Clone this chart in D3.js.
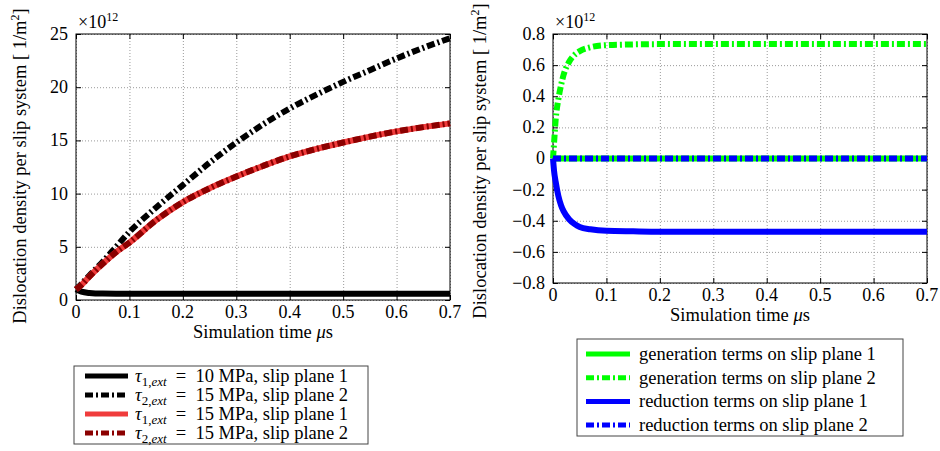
<!DOCTYPE html>
<html>
<head>
<meta charset="utf-8">
<script src="https://cdn.jsdelivr.net/npm/d3@7"></script>
<style>
  body { margin: 0; background: #fff; }
  svg text { font-family: "Liberation Serif", "Times New Roman", serif; fill: #000; }
</style>
</head>
<body>
<div id="chart"></div>
<script>
// data (values in units of 1e12 1/m^2, time in microseconds)
var tLeft = [0, 0.01, 0.025, 0.05, 0.075, 0.1, 0.15, 0.2, 0.25, 0.3, 0.35, 0.4, 0.45, 0.5, 0.55, 0.6, 0.65, 0.7];
var black10Plane1 = [1.0, 0.78, 0.66, 0.6, 0.59, 0.59, 0.59, 0.59, 0.59, 0.59, 0.59, 0.59, 0.59, 0.59, 0.59, 0.59, 0.59, 0.59];
var black15Plane2 = [1.0, 1.5, 2.3, 3.6, 5.0, 6.4, 8.7, 10.8, 12.9, 14.8, 16.5, 18.0, 19.3, 20.5, 21.6, 22.7, 23.7, 24.6];
var red15Plane1 = [1.0, 1.4, 2.2, 3.4, 4.5, 5.4, 7.5, 9.2, 10.5, 11.6, 12.6, 13.5, 14.2, 14.8, 15.35, 15.85, 16.25, 16.6];
var darkred15Plane2 = [1.0, 1.4, 2.2, 3.4, 4.5, 5.4, 7.5, 9.2, 10.5, 11.6, 12.6, 13.5, 14.2, 14.8, 15.35, 15.85, 16.25, 16.6];

var tRight = [0, 0.002, 0.005, 0.01, 0.015, 0.02, 0.03, 0.04, 0.05, 0.07, 0.1, 0.15, 0.2, 0.3, 0.4, 0.5, 0.6, 0.7];
var genPlane1 = [0, 0, 0, 0, 0, 0, 0, 0, 0, 0, 0, 0, 0, 0, 0, 0, 0, 0];
var genPlane2 = [0, 0.1, 0.25, 0.38, 0.47, 0.54, 0.62, 0.665, 0.69, 0.715, 0.728, 0.733, 0.735, 0.735, 0.735, 0.735, 0.735, 0.735];
var redPlane1 = [0, -0.08, -0.15, -0.24, -0.30, -0.34, -0.39, -0.42, -0.44, -0.455, -0.465, -0.468, -0.47, -0.47, -0.47, -0.47, -0.47, -0.47];
var redPlane2 = [0, 0, 0, 0, 0, 0, 0, 0, 0, 0, 0, 0, 0, 0, 0, 0, 0, 0];

var xTicks = [0, 0.1, 0.2, 0.3, 0.4, 0.5, 0.6, 0.7];
var yTicksLeft = [0, 5, 10, 15, 20, 25];
var yTicksRight = [-0.8, -0.6, -0.4, -0.2, 0, 0.2, 0.4, 0.6, 0.8];

var leftLabels = ["10 MPa, slip plane 1", "15 MPa, slip plane 2", "15 MPa, slip plane 1", "15 MPa, slip plane 2"];
var leftSubs = ["1", "2", "1", "2"];
var rightLabels = ["generation terms on slip plane 1", "generation terms on slip plane 2",
                   "reduction terms on slip plane 1", "reduction terms on slip plane 2"];

var DASHDOT = "8,3,2,3";
var FONT = "Liberation Serif";

var svg = d3.select("#chart").append("svg")
  .attr("width", 940)
  .attr("height", 451);

// draws one panel: box, grid, ticks, labels, lines
function panel(opt) {
  var x = d3.scaleLinear().domain([0, 0.7]).range([opt.x0, opt.x1]);
  var y = d3.scaleLinear().domain(opt.yDomain).range([opt.y1, opt.y0]);
  var g = svg.append("g");

  // grid
  g.append("g").call(d3.axisBottom(x).tickValues(xTicks).tickSize(-(opt.y1 - opt.y0)).tickFormat(""))
    .attr("transform", "translate(0," + opt.y1 + ")")
    .call(s => s.select(".domain").remove())
    .call(s => s.selectAll("line").attr("stroke", "#9a9a9a").attr("stroke-dasharray", "1,2"));
  g.append("g").call(d3.axisLeft(y).tickValues(opt.yTicks).tickSize(-(opt.x1 - opt.x0)).tickFormat(""))
    .attr("transform", "translate(" + opt.x0 + ",0)")
    .call(s => s.select(".domain").remove())
    .call(s => s.selectAll("line").attr("stroke", "#9a9a9a").attr("stroke-dasharray", "1,2"));

  // tick marks inside on all sides
  var ax = [
    [d3.axisBottom(x).tickValues(xTicks).tickSize(-5), "translate(0," + opt.y1 + ")"],
    [d3.axisTop(x).tickValues(xTicks).tickSize(-5), "translate(0," + opt.y0 + ")"],
    [d3.axisLeft(y).tickValues(opt.yTicks).tickSize(-5), "translate(" + opt.x0 + ",0)"],
    [d3.axisRight(y).tickValues(opt.yTicks).tickSize(-5), "translate(" + opt.x1 + ",0)"]
  ];
  ax.forEach(function(a) {
    g.append("g").attr("transform", a[1]).call(a[0].tickFormat(""))
      .call(s => s.select(".domain").remove())
      .call(s => s.selectAll("line").attr("stroke", "#000"));
  });

  g.append("rect")
    .attr("x", opt.x0).attr("y", opt.y0)
    .attr("width", opt.x1 - opt.x0).attr("height", opt.y1 - opt.y0)
    .attr("fill", "none").attr("stroke", "#000");

  // tick labels
  g.selectAll(".xl").data(xTicks).enter().append("text")
    .attr("x", d => x(d)).attr("y", opt.y1 + 18)
    .attr("text-anchor", "middle").attr("font-family", FONT).attr("font-size", "18px")
    .text(d => d3.format("")(d));
  g.selectAll(".yl").data(opt.yTicks).enter().append("text")
    .attr("x", opt.x0 - 8).attr("y", d => y(d)).attr("dy", "0.33em")
    .attr("text-anchor", "end").attr("font-family", FONT).attr("font-size", "18px")
    .text(d => d < 0 ? "\u2212" + Math.abs(d) : String(d));

  // exponent
  var ex = g.append("text").attr("x", opt.x0 + 2).attr("y", 28)
    .attr("font-family", FONT).attr("font-size", "18px");
  ex.append("tspan").text("\u00d710");
  ex.append("tspan").attr("font-size", "12px").attr("dy", "-7").text("12");

  // axis labels
  var xl = g.append("text")
    .attr("x", (opt.x0 + opt.x1) / 2).attr("y", opt.y1 + 38)
    .attr("text-anchor", "middle").attr("font-family", FONT).attr("font-size", "18.5px");
  xl.append("tspan").text("Simulation time ");
  xl.append("tspan").attr("font-style", "italic").text("\u03bc");
  xl.append("tspan").text("s");

  var yl = g.append("text")
    .attr("transform", "translate(" + opt.yLabelX + "," + opt.yLabelY + ") rotate(-90)")
    .attr("text-anchor", "middle").attr("font-family", FONT).attr("font-size", "18.5px");
  yl.append("tspan").text("Dislocation density per slip system [ 1/m");
  yl.append("tspan").attr("font-size", "12px").attr("dy", "-7").text("2");
  yl.append("tspan").attr("dy", "7").text("]");

  // lines
  opt.series.forEach(function(s) {
    var line = d3.line()
      .x((d, i) => x(opt.t[i]))
      .y(d => y(d))
      .curve(d3.curveMonotoneX);
    g.append("path")
      .datum(s.values)
      .attr("d", line)
      .attr("fill", "none")
      .attr("stroke", s.color)
      .attr("stroke-width", 6)
      .attr("stroke-dasharray", s.dash ? DASHDOT : null);
  });
}

var leftSeries = [
  {values: black10Plane1, color: "#000000", dash: false},
  {values: black15Plane2, color: "#000000", dash: true},
  {values: red15Plane1, color: "#f03c3c", dash: false},
  {values: darkred15Plane2, color: "#8b0000", dash: true}
];
var rightSeries = [
  {values: genPlane1, color: "#00ff00", dash: false},
  {values: genPlane2, color: "#00ff00", dash: true},
  {values: redPlane1, color: "#0000ff", dash: false},
  {values: redPlane2, color: "#0000ff", dash: true}
];

panel({x0: 76, x1: 450, y0: 34, y1: 300, yDomain: [0, 25], yTicks: yTicksLeft,
       t: tLeft, series: leftSeries, yLabelX: 26, yLabelY: 166});
panel({x0: 553, x1: 927, y0: 34, y1: 283, yDomain: [-0.8, 0.8], yTicks: yTicksRight,
       t: tRight, series: rightSeries, yLabelX: 486, yLabelY: 161});

// legends
function legend(box, rows, series, labelFn) {
  var g = svg.append("g");
  g.append("rect")
    .attr("x", box.x).attr("y", box.y).attr("width", box.w).attr("height", box.h)
    .attr("fill", "#fff").attr("stroke", "#444");
  series.forEach(function(s, i) {
    var cy = rows.y + i * rows.step;
    g.append("line")
      .attr("x1", rows.sx0).attr("x2", rows.sx1).attr("y1", cy).attr("y2", cy)
      .attr("stroke", s.color).attr("stroke-width", 5)
      .attr("stroke-dasharray", s.dash ? DASHDOT : null);
    var t = g.append("text").attr("x", rows.tx).attr("y", cy + 6)
      .attr("font-family", FONT).attr("font-size", "18.5px");
    labelFn(t, i);
  });
}

legend({x: 74, y: 366, w: 294, h: 78}, {y: 376, step: 19, sx0: 85, sx1: 128, tx: 135}, leftSeries,
  function(t, i) {
    t.append("tspan").attr("font-style", "italic").text("\u03c4");
    t.append("tspan").attr("font-size", "13px").attr("dy", "4").text(leftSubs[i] + ",");
    t.append("tspan").attr("font-size", "13px").attr("font-style", "italic").text("ext");
    t.append("tspan").attr("dy", "-4").text("\u2002=\u2002" + leftLabels[i]);
  });

legend({x: 577, y: 339, w: 326, h: 97}, {y: 354, step: 23.7, sx0: 586, sx1: 630, tx: 639}, rightSeries,
  function(t, i) { t.text(rightLabels[i]); });
</script>
</body>
</html>
